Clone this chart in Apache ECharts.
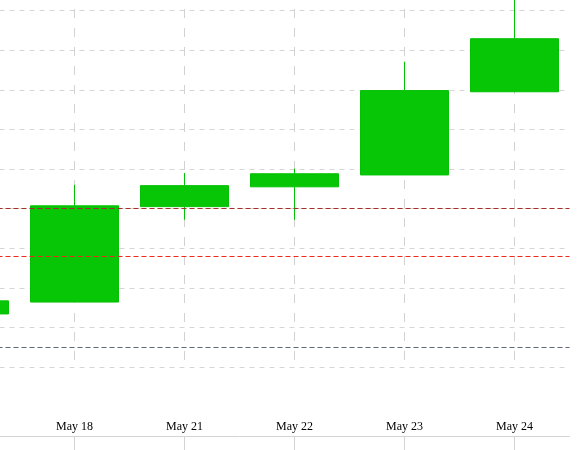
<!DOCTYPE html>
<html>
<head>
<meta charset="utf-8">
<style>
html,body{margin:0;padding:0;background:#fff;overflow:hidden;width:585px;height:450px;}
#chart{position:absolute;left:-91px;top:-29px;width:677px;height:479px;}
</style>
<script src="https://cdn.jsdelivr.net/npm/echarts@6/dist/echarts.min.js"></script>
</head>
<body>
<div id="chart"></div>
<script>
// Categories (first one sits mostly off the left edge)
var categories = ['May 17', 'May 18', 'May 21', 'May 22', 'May 23', 'May 24'];
var openVals  = [2.34, 2.64, 5.05, 5.55, 5.85, 7.95];
var closeVals = [2.67, 5.07, 5.58, 5.88, 7.98, 9.29];
var lowVals   = [2.25, 2.64, 4.72, 4.72, 5.85, 7.95];
var highVals  = [2.75, 5.60, 5.90, 6.01, 8.71, 10.6];
// Horizontal reference levels
var levelValues = [5.0, 3.8, 1.51];
var levelColors = ['#a0302a', '#f0281e', '#5f6678'];

var candleData = categories.map(function (c, i) {
  return [openVals[i], closeVals[i], lowVals[i], highVals[i]];
});

var chart = echarts.init(document.getElementById('chart'), null, {renderer: 'canvas'});
chart.setOption({
  animation: false,
  backgroundColor: '#ffffff',
  grid: {left: 0.5, right: 16.5, top: 0, bottom: 83, containLabel: false},
  xAxis: {
    type: 'category',
    data: categories,
    boundaryGap: true,
    offset: 69,
    axisLine: {show: true, lineStyle: {color: '#d4d4d4', width: 1}},
    axisTick: {show: true, alignWithLabel: true, length: 15, lineStyle: {color: '#d4d4d4'}},
    axisLabel: {inside: true, margin: 3, color: '#000', fontFamily: 'Liberation Serif', fontSize: 12},
    splitLine: {show: true, alignWithLabel: true, lineStyle: {color: '#d2d2d2', type: [9, 10], width: 1}}
  },
  yAxis: {
    type: 'value',
    min: 1, max: 11, interval: 1,
    axisLine: {show: false},
    axisTick: {show: false},
    axisLabel: {show: false},
    splitLine: {show: true, lineStyle: {color: '#d6d6d6', type: [5, 5], width: 1}}
  },
  series: [
    {
      type: 'line',
      data: [],
      z: 1,
      silent: true,
      markLine: {
        silent: true,
        symbol: 'none',
        label: {show: false},
        data: levelValues.map(function (v, i) {
          return {yAxis: v, lineStyle: {color: levelColors[i], type: [5, 3], width: 1}};
        })
      }
    },
    {
      type: 'candlestick',
      z: 3,
      barWidth: 88,
      data: candleData,
      itemStyle: {
        color: '#06c606', color0: '#06c606',
        borderColor: '#04c004', borderColor0: '#04c004', borderWidth: 1
      }
    }
  ]
});
</script>
</body>
</html>
